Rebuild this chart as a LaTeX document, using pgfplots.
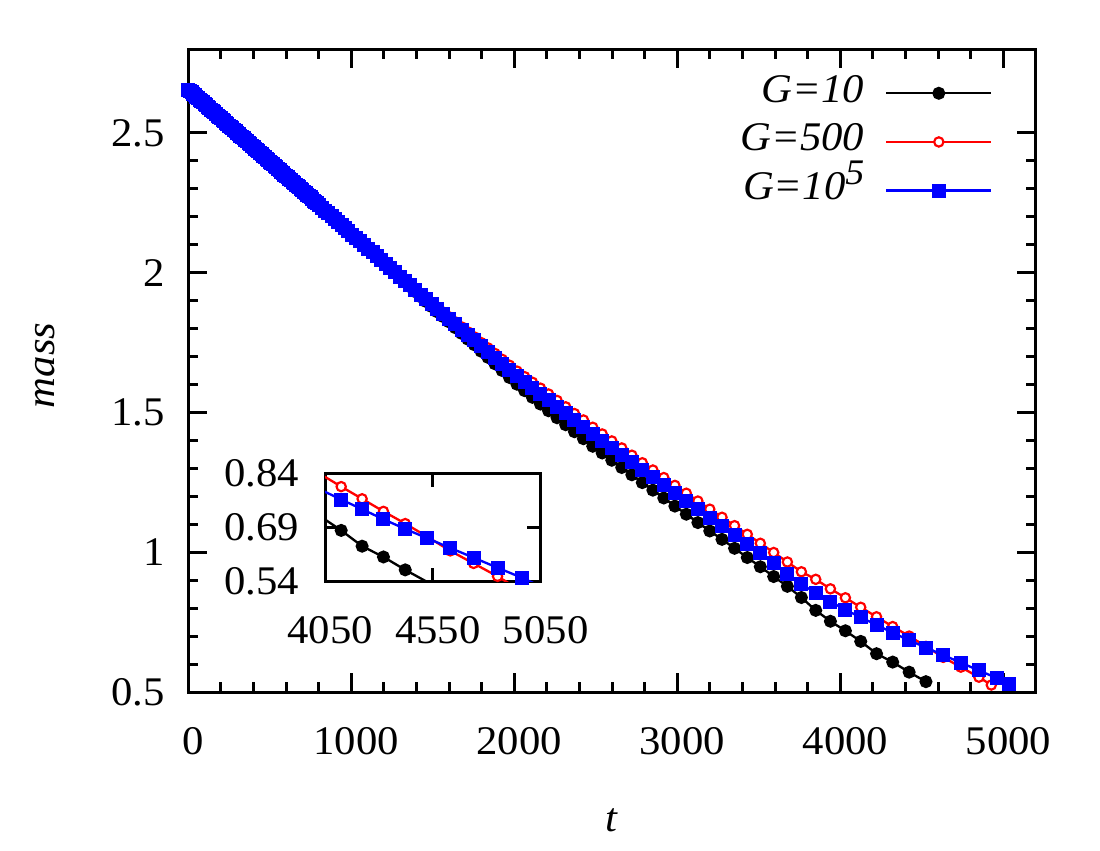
\documentclass[border=0pt]{standalone}
\usepackage{fontspec}
\setmainfont[FakeStretch=1.05]{Liberation Serif}
\usepackage{pgfplots}
\pgfplotsset{compat=1.18}
\usepackage{pgfplotstable}
\newcommand{\ff}{\fontsize{12.2}{14}\selectfont}

\pgfplotstableread{
t m
0 2.655
100 2.604
200 2.552
300 2.501
400 2.449
500 2.398
600 2.346
700 2.295
800 2.243
900 2.192
1007 2.136
1031 2.124
1055 2.111
1080 2.098
1105 2.085
1131 2.071
1157 2.057
1184 2.043
1212 2.028
1240 2.013
1269 1.998
1299 1.982
1329 1.966
1360 1.950
1392 1.932
1425 1.914
1458 1.897
1492 1.879
1527 1.860
1563 1.843
1600 1.824
1638 1.803
1676 1.783
1715 1.762
1755 1.742
1796 1.719
1838 1.697
1881 1.674
1925 1.650
1970 1.625
2016 1.601
2063 1.578
2111 1.554
2160 1.530
2210 1.506
2262 1.481
2315 1.456
2369 1.431
2424 1.406
2481 1.379
2539 1.355
2598 1.329
2659 1.303
2721 1.277
2785 1.249
2850 1.222
2917 1.194
2985 1.165
3055 1.136
3126 1.106
3199 1.076
3274 1.046
3351 1.014
3429 0.981
3509 0.948
3591 0.913
3675 0.878
3761 0.838
3849 0.792
3939 0.753
4031 0.719
4125 0.681
4222 0.637
4321 0.607
4422 0.571
4525 0.537
}\tblack

\pgfplotstableread{
t m
0 2.655
100 2.604
200 2.552
300 2.501
400 2.449
500 2.398
600 2.346
700 2.295
800 2.243
900 2.192
1007 2.136
1031 2.124
1055 2.113
1080 2.100
1105 2.087
1131 2.074
1157 2.061
1184 2.047
1212 2.033
1240 2.018
1269 2.005
1299 1.989
1329 1.974
1360 1.959
1392 1.943
1425 1.926
1458 1.910
1492 1.893
1527 1.876
1563 1.859
1600 1.842
1638 1.824
1676 1.806
1715 1.788
1755 1.770
1796 1.750
1838 1.731
1881 1.711
1925 1.690
1970 1.669
2016 1.648
2063 1.628
2111 1.608
2160 1.587
2210 1.566
2262 1.543
2315 1.520
2369 1.496
2424 1.473
2481 1.447
2539 1.423
2598 1.398
2659 1.373
2721 1.347
2785 1.320
2850 1.294
2917 1.267
2985 1.239
3055 1.211
3126 1.183
3199 1.154
3274 1.125
3351 1.095
3429 1.064
3509 1.032
3591 0.999
3675 0.965
3761 0.930
3849 0.903
3939 0.869
4031 0.837
4125 0.803
4222 0.769
4321 0.734
4422 0.700
4525 0.663
4631 0.624
4739 0.589
4850 0.553
4926 0.525
}\tred

\pgfplotstableread{
t m
0 2.655
10 2.650
20 2.645
30 2.640
40 2.634
50 2.629
60 2.624
70 2.619
80 2.614
90 2.609
100 2.603
110 2.598
120 2.593
130 2.588
140 2.583
150 2.578
160 2.573
170 2.567
180 2.562
190 2.557
200 2.552
210 2.547
220 2.542
230 2.537
240 2.531
250 2.526
260 2.521
270 2.516
280 2.511
290 2.506
300 2.500
310 2.495
320 2.490
330 2.485
340 2.480
350 2.475
360 2.470
370 2.464
380 2.459
390 2.454
400 2.449
410 2.444
420 2.439
430 2.434
440 2.428
450 2.423
460 2.418
470 2.413
480 2.408
490 2.403
500 2.397
510 2.392
520 2.387
530 2.382
540 2.377
550 2.372
560 2.367
570 2.361
580 2.356
590 2.351
600 2.346
610 2.341
620 2.336
630 2.331
640 2.325
650 2.320
660 2.315
670 2.310
680 2.305
690 2.300
700 2.294
710 2.289
720 2.284
730 2.279
740 2.274
750 2.269
760 2.264
770 2.258
780 2.253
790 2.248
800 2.243
820 2.233
840 2.222
860 2.212
880 2.202
900 2.191
920 2.181
940 2.171
960 2.161
980 2.150
1007 2.136
1031 2.124
1055 2.112
1080 2.099
1105 2.086
1131 2.073
1157 2.059
1184 2.045
1212 2.031
1240 2.016
1269 2.002
1299 1.986
1329 1.971
1360 1.955
1392 1.938
1425 1.921
1458 1.904
1492 1.887
1527 1.869
1563 1.852
1600 1.834
1638 1.815
1676 1.796
1715 1.777
1755 1.758
1796 1.737
1838 1.717
1881 1.696
1925 1.674
1970 1.652
2016 1.630
2063 1.609
2111 1.588
2160 1.566
2210 1.544
2262 1.521
2315 1.497
2369 1.473
2424 1.449
2481 1.423
2539 1.399
2598 1.374
2659 1.348
2721 1.322
2785 1.295
2850 1.268
2917 1.240
2985 1.211
3055 1.182
3126 1.153
3199 1.123
3274 1.093
3351 1.061
3429 1.029
3509 0.996
3591 0.960
3675 0.923
3761 0.885
3849 0.855
3939 0.823
4031 0.794
4125 0.767
4222 0.740
4321 0.712
4422 0.685
4525 0.659
4631 0.632
4739 0.605
4850 0.577
4963 0.549
5032 0.530
}\tblue

\pgfplotsset{
  common/.style={
    scale only axis,
    tick align=inside,
    axis line style={line width=0.9pt},
    tick style={line width=0.9pt, black},
    /pgf/number format/assume math mode=true,
    /pgf/number format/1000 sep={},
    tick label style={font=\ff},
    xticklabel style={anchor=north, inner sep=0pt, yshift=-10.5pt, xshift=1.5pt},
  },
  sblack/.style={black, line width=0.7pt, mark=*, mark size=1.6pt, mark options={solid, fill=black}},
  sred/.style={red, line width=0.7pt, mark=*, mark size=1.4pt, mark options={solid, fill=white, draw=red, line width=0.65pt}},
  sblue/.style={blue, line width=0.7pt, mark=square*, mark size=1.75pt, mark options={solid, fill=blue, draw=blue}},
}

\begin{document}
\begin{tikzpicture}
\useasboundingbox (0,0) rectangle (330pt,255pt);
\begin{axis}[common,
  at={(56.49pt,47.4pt)}, anchor=south west,
  width=254.31pt, height=192.9pt,
  xmin=0, xmax=5200, ymin=0.5, ymax=2.8,
  xtick={0,1000,2000,3000,4000,5000},
  ytick={0.5,1,1.5,2,2.5},
  minor x tick num=4, minor y tick num=4,
  major tick length=5.7pt, minor tick length=3pt,
  yticklabel style={anchor=east, inner sep=0pt, xshift=-6.9pt},
  xlabel={\textit{t}}, ylabel={\textit{mass}},
  label style={font=\ff},
  xlabel style={at={(axis description cs:0.5,-0.199)}, anchor=center},
  ylabel style={at={(axis description cs:-0.169,0.508)}, anchor=center},
  legend style={at={(rel axis cs:0.9485,0.969)}, anchor=north east,
    draw=none, fill=none, inner sep=0pt, outer sep=0pt,
    font=\ff\itshape, column sep=6.3pt, row sep=0pt,
    nodes={inner sep=0pt, text height=10pt, text depth=4.6pt}},
  legend cell align=right,
  legend plot pos=right,
  legend image code/.code={\draw[mark repeat=2, mark phase=2] plot coordinates {(0pt,0pt) (15.7pt,0pt) (31.4pt,0pt)};},
]
\addplot[sblack] table {\tblack};
\addlegendentry{G=10}
\addplot[sred] table {\tred};
\addlegendentry{G=500}
\addplot[sblue] table {\tblue};
\addlegendentry{G=10\raisebox{4.5pt}{\fontsize{10.8}{11}\selectfont 5}}
\end{axis}

\begin{axis}[common,
  at={(97.5pt,80.7pt)}, anchor=south west,
  width=64.7pt, height=32.3pt,
  xmin=4050, xmax=5050, ymin=0.54, ymax=0.84,
  xtick={4050,4550,5050}, ytick={0.54,0.69,0.84},
  yticklabels={0.54,0.69,0.84},
  major tick length=4pt,
  yticklabel style={anchor=east, inner sep=0pt, xshift=-7.5pt},
]
\addplot[black, line width=0.7pt] table {\tblack};
\addplot[sblack, only marks, restrict x to domain=4040:5060, restrict y to domain=0.535:0.85] table {\tblack};
\addplot[red, line width=0.7pt] table {\tred};
\addplot[sred, only marks, restrict x to domain=4040:5060, restrict y to domain=0.535:0.85] table {\tred};
\addplot[blue, line width=0.7pt] table {\tblue};
\addplot[sblue, only marks, restrict x to domain=4040:5060, restrict y to domain=0.535:0.85] table {\tblue};
\end{axis}
\end{tikzpicture}
\end{document}
